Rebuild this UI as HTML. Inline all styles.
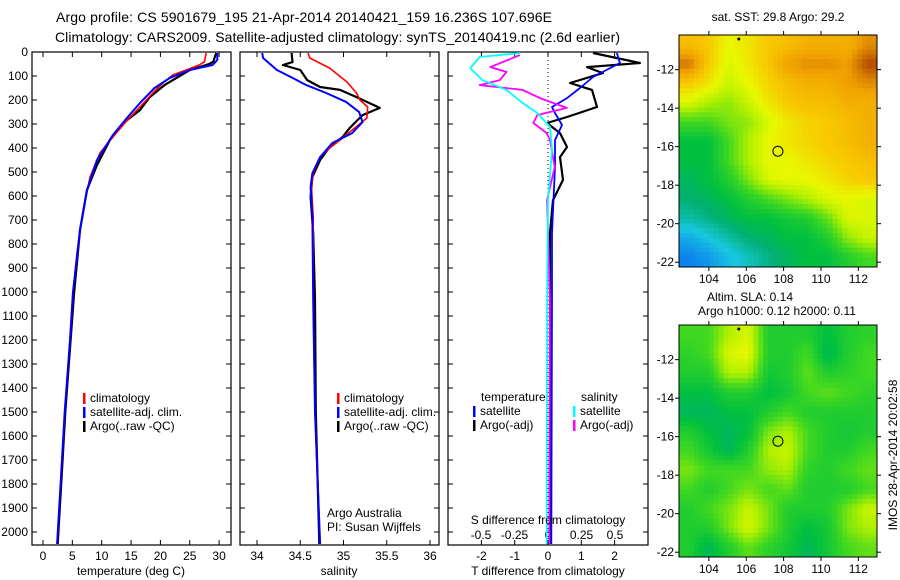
<!DOCTYPE html>
<html><head><meta charset="utf-8">
<style>
html,body{margin:0;padding:0;background:#fff;}
svg{display:block;font-family:"Liberation Sans",sans-serif;}
text{fill:#000;font-size:12px;}
</style></head>
<body>
<svg id="fig" width="900" height="580" viewBox="0 0 900 580">
<text x="56" y="22" textLength="496" style="font-size:14px">Argo profile: CS 5901679_195 21-Apr-2014 20140421_159 16.236S 107.696E</text>
<text x="55" y="42" textLength="565" style="font-size:14px">Climatology: CARS2009. Satellite-adjusted climatology: synTS_20140419.nc (2.6d earlier)</text>
<g id="g"></g>
</svg>
<script>
// ---------- Data ----------
const depthTicks=[0,100,200,300,400,500,600,700,800,900,1000,1100,1200,1300,1400,1500,1600,1700,1800,1900,2000];
const tTicks=[0,5,10,15,20,25,30];
const sTicks=[34,34.5,35,35.5,36];
const tdTicks=[-2,-1,0,1,2];
const sdTicks=[-0.5,-0.25,0,0.25,0.5];
const sdTickLabels=["-0.5","-0.25","0","0.25","0.5"];
// temperature profiles
const tClimDepth=[4,41,54,75,96,130,171,229,283,354,421,521,617,742,838,1004,1200,1500,1800,2050];
const tClimVal=[27.8,27.5,26.6,24.4,22.1,20.4,18.7,16.5,14.4,11.9,9.7,8.0,7.2,6.3,5.8,5.1,4.6,3.7,3.0,2.4];
const tSatDepth=[4,33,54,75,108,150,213,275,346,450,575,742,1004,1200,1500,1800,2050];
const tSatVal=[29.7,29.7,28.9,25.0,21.6,19.0,16.5,14.3,11.9,9.2,7.5,6.3,5.1,4.6,3.7,3.0,2.4];
const tArgoDepth=[4,41,50,75,138,188,242,292,367,471,575,742,1004,1200,1500,1800,2050];
const tArgoVal=[29.5,29.0,28.3,25.0,20.7,18.2,16.5,13.9,11.4,9.2,7.5,6.3,5.3,4.7,3.8,3.1,2.5];
// salinity profiles
const sClimDepth=[4,25,67,125,171,200,229,275,325,367,400,438,504,563,688,1033,1500,2050];
const sClimVal=[34.59,34.61,34.84,35.04,35.15,35.19,35.28,35.27,35.10,34.96,34.84,34.73,34.65,34.63,34.65,34.65,34.67,34.73];
const sSatDepth=[4,25,75,108,138,171,208,250,292,338,379,438,504,563,688,1033,1500,2050];
const sSatVal=[34.06,34.07,34.23,34.41,34.57,34.80,35.03,35.18,35.22,35.10,34.87,34.73,34.64,34.62,34.64,34.65,34.67,34.73];
const sArgoDepth=[4,42,54,75,117,146,158,188,233,263,317,354,396,450,521,604,754,1033,1500,2050];
const sArgoVal=[34.40,34.41,34.30,34.50,34.58,34.73,34.96,35.15,35.42,35.22,35.07,34.99,34.84,34.73,34.64,34.62,34.65,34.67,34.68,34.72];
// difference profiles
const dSsatDepth=[4,21,67,117,158,212,254,312,408,617,1033,2050];
const dSsatVal=[-0.21,-0.51,-0.58,-0.49,-0.31,-0.19,-0.08,0.015,0.03,0,-0.007,-0.01];
const dSargoDepth=[13,63,83,117,138,158,192,233,263,296,338,367,479,617,1033,2050];
const dSargoVal=[-0.21,-0.43,-0.31,-0.36,-0.51,-0.19,-0.06,0.14,-0.08,-0.11,-0.01,0.015,0.05,-0.007,0.015,0.01];
const dTsatDepth=[4,46,104,150,192,229,254,304,367,479,754,1033,2050];
const dTsatVal=[2.07,2.16,1.35,0.96,0.57,0.12,0.21,0.42,0.21,0.21,0.12,0.12,0.1];
const dTargoDepth=[4,46,63,88,129,158,229,271,296,338,396,438,533,617,754,1033,2050];
const dTargoVal=[1.35,2.76,1.17,1.65,0.66,1.32,1.47,0.57,-0.03,0.36,0.57,0.36,0.45,0.15,0.06,0.06,0.06];
// maps
const lonTicks=[104,106,108,110,112];
const latTicks=[-12,-14,-16,-18,-20,-22];
const sstGrid=[
[0.82,0.80,0.72,0.75,0.80,0.82,0.85,0.85,0.85,0.90],
[0.93,0.80,0.70,0.75,0.80,0.88,0.90,0.90,0.88,0.97],
[0.80,0.75,0.68,0.72,0.78,0.82,0.85,0.85,0.88,0.90],
[0.70,0.65,0.62,0.68,0.75,0.80,0.82,0.82,0.85,0.85],
[0.55,0.55,0.60,0.62,0.70,0.75,0.78,0.80,0.82,0.85],
[0.45,0.45,0.55,0.65,0.72,0.75,0.78,0.80,0.82,0.85],
[0.45,0.45,0.55,0.65,0.72,0.72,0.75,0.78,0.80,0.82],
[0.42,0.45,0.50,0.60,0.70,0.72,0.72,0.75,0.78,0.80],
[0.40,0.42,0.45,0.50,0.55,0.60,0.65,0.70,0.72,0.70],
[0.35,0.38,0.42,0.45,0.45,0.48,0.50,0.58,0.70,0.70],
[0.25,0.30,0.35,0.40,0.42,0.45,0.45,0.50,0.62,0.68],
[0.18,0.22,0.28,0.33,0.38,0.42,0.45,0.45,0.50,0.55]];
const slaGrid=[
[0.55,0.55,0.65,0.70,0.50,0.50,0.50,0.45,0.50,0.52],
[0.52,0.55,0.70,0.72,0.50,0.50,0.55,0.42,0.50,0.55],
[0.50,0.50,0.65,0.65,0.48,0.50,0.58,0.50,0.52,0.55],
[0.45,0.45,0.50,0.50,0.45,0.48,0.55,0.58,0.55,0.52],
[0.42,0.42,0.45,0.45,0.50,0.55,0.50,0.50,0.50,0.50],
[0.50,0.45,0.42,0.45,0.60,0.65,0.55,0.50,0.48,0.50],
[0.55,0.48,0.42,0.50,0.65,0.68,0.55,0.50,0.50,0.55],
[0.60,0.55,0.55,0.55,0.62,0.65,0.52,0.50,0.55,0.58],
[0.55,0.50,0.55,0.60,0.55,0.58,0.50,0.50,0.50,0.55],
[0.50,0.55,0.60,0.68,0.60,0.50,0.50,0.50,0.60,0.68],
[0.50,0.50,0.60,0.70,0.60,0.50,0.45,0.48,0.60,0.65],
[0.50,0.42,0.50,0.58,0.52,0.48,0.42,0.48,0.55,0.58]];
const argoLon=107.696, argoLat=-16.236;

// ---------- Drawing ----------
const NS='http://www.w3.org/2000/svg';
const G=document.getElementById('g');
function el(tag,attrs,parent){const e=document.createElementNS(NS,tag);for(const k in attrs)e.setAttribute(k,attrs[k]);(parent||G).appendChild(e);return e;}
function txt(x,y,s,anchor,parent){const t=el('text',{x:x,y:y,'text-anchor':anchor||'start'},parent);t.textContent=s;return t;}
const yD=d=>52+d*0.24;
const PT={x0:32,x1:231}, PS={x0:240,x1:439}, PD={x0:448,x1:648};
const xT=v=>43+v*5.87, xS=v=>257+(v-34)*86.5, xTd=v=>548+v*33.3, xSd=v=>548+v*134;

function frame(p,name){
  const r=el('rect',{x:p.x0,y:52,width:p.x1-p.x0,height:493,fill:'none',stroke:'#000','stroke-width':1.2});
  
  
  depthTicks.forEach(d=>{el('line',{x1:p.x0,x2:p.x0+5,y1:yD(d),y2:yD(d),stroke:'#000'});el('line',{x1:p.x1,x2:p.x1-5,y1:yD(d),y2:yD(d),stroke:'#000'});});
}
function xticks(vals,fx,labels,y,p){vals.forEach((v,i)=>{const x=fx(v);el('line',{x1:x,x2:x,y1:545,y2:540,stroke:'#000'});el('line',{x1:x,x2:x,y1:52,y2:57,stroke:'#000'});const t=txt(x,y,labels?labels[i]:String(v),'middle');});}
function line(depths,vals,fx,color,w,name){
  const pts=depths.map((d,i)=>fx(vals[i]).toFixed(1)+','+yD(d).toFixed(1)).join(' ');
  const pl=el('polyline',{points:pts,fill:'none',stroke:color,'stroke-width':w,'stroke-linejoin':'round'});
  
  
}
// panel 1
frame(PT,'temperature-panel');
depthTicks.forEach(d=>{const t=txt(28,yD(d)+4,String(d),'end');});
xticks(tTicks,xT,null,560,PT);
line(tArgoDepth,tArgoVal,xT,'#000',2.2,'temp-argo-line');
line(tClimDepth,tClimVal,xT,'#f00',1.6,'temp-climatology-line');
line(tSatDepth,tSatVal,xT,'#00f',2,'temp-satellite-line');
const xl1=txt(131,575,'temperature (deg C)','middle');
// panel 2
frame(PS,'salinity-panel');
xticks(sTicks,xS,null,560,PS);
line(sArgoDepth,sArgoVal,xS,'#000',2.2,'sal-argo-line');
line(sClimDepth,sClimVal,xS,'#f00',1.6,'sal-climatology-line');
line(sSatDepth,sSatVal,xS,'#00f',2,'sal-satellite-line');
const xl2=txt(339,575,'salinity','middle');
txt(327,517,'Argo Australia');
txt(327,531,'PI: Susan Wijffels');
// legends
function legend(x,y,entries,pfx){entries.forEach((e,i)=>{const yy=y+i*14;const m=el('rect',{x:x,y:yy-9,width:2.5,height:11,fill:e[1]});const t=txt(x+7,yy,e[0]);});}
legend(83,402,[['climatology','#f00'],['satellite-adj. clim.','#00f'],['Argo(..raw -QC)','#000']],'temp');
legend(337,402,[['climatology','#f00'],['satellite-adj. clim.','#00f'],['Argo(..raw -QC)','#000']],'sal');
// panel 3
frame(PD,'difference-panel');
el('line',{x1:548,x2:548,y1:52,y2:545,stroke:'#000','stroke-dasharray':'1,3'});
xticks(tdTicks,xTd,null,560,PD);
sdTicks.forEach((v,i)=>{const t=txt(xSd(v),539,sdTickLabels[i],'middle');});
line(dTargoDepth,dTargoVal,xTd,'#000',2.2,'tdiff-argo-line');
line(dTsatDepth,dTsatVal,xTd,'#00f',1.8,'tdiff-satellite-line');
line(dSargoDepth,dSargoVal,xSd,'#f0f',1.8,'sdiff-argo-line');
line(dSsatDepth,dSsatVal,xSd,'#0ff',1.8,'sdiff-satellite-line');
txt(548,524,'S difference from climatology','middle');
txt(548,575,'T difference from climatology','middle');
txt(481,401,'temperature');
txt(581,401,'salinity');
legend(473,415,[['satellite','#00f'],['Argo(-adj)','#000']],'tdiff');
legend(573,415,[['satellite','#0ff'],['Argo(-adj)','#f0f']],'sdiff');

// maps
const stops=[[0,'#0030e0'],[0.15,'#0a70f0'],[0.3,'#18c8e0'],[0.4,'#00b070'],[0.45,'#00c040'],[0.55,'#40d820'],[0.65,'#b0f000'],[0.72,'#e8f800'],[0.8,'#f8c800'],[0.88,'#f0a000'],[0.95,'#c06000'],[1,'#a02000']];
function hex(c){return [1,3,5].map(i=>parseInt(c.substr(i,2),16));}
function cmap(v){for(let i=1;i<stops.length;i++){if(v<=stops[i][0]){const a=hex(stops[i-1][1]),b=hex(stops[i][1]);const f=(v-stops[i-1][0])/(stops[i][0]-stops[i-1][0]);return 'rgb('+a.map((x,k)=>Math.round(x+(b[k]-x)*f)).join(',')+')';}}return stops[stops.length-1][1];}
function sample(grid,r,c){ // bilinear interpolation at fractional cell-centre coords
  const R=grid.length,C=grid[0].length;
  r=Math.max(0,Math.min(R-1,r));c=Math.max(0,Math.min(C-1,c));
  const r0=Math.floor(r),c0=Math.floor(c),r1=Math.min(R-1,r0+1),c1=Math.min(C-1,c0+1);
  const fr=r-r0,fc=c-c0;
  return grid[r0][c0]*(1-fr)*(1-fc)+grid[r0][c1]*(1-fr)*fc+grid[r1][c0]*fr*(1-fc)+grid[r1][c1]*fr*fc;
}
function map(y0,grid,name){
  const X0=679,X1=877,Y0=y0,Y1=y0+232;
  const lon0=102.4,lon1=113,lat0=-10.2,lat1=-22.25;
  const xL=v=>X0+(v-lon0)/(lon1-lon0)*(X1-X0), yL=v=>Y0+(v-lat0)/(lat1-lat0)*(Y1-Y0);
  const rows=grid.length, cols=grid[0].length, sub=4;
  const cw=(X1-X0)/(cols*sub), ch=(Y1-Y0)/(rows*sub);
  const g=el('g',{});
  
  
  for(let r=0;r<rows*sub;r++)for(let c=0;c<cols*sub;c++){
    const v=sample(grid,(r+0.5)/sub-0.5,(c+0.5)/sub-0.5);
    el('rect',{x:(X0+c*cw).toFixed(2),y:(Y0+r*ch).toFixed(2),width:(cw+0.5).toFixed(2),height:(ch+0.5).toFixed(2),fill:cmap(v)},g);
  }
  el('rect',{x:X0,y:Y0,width:X1-X0,height:Y1-Y0,fill:'none',stroke:'#000','stroke-width':1},g);
  lonTicks.forEach(v=>{const x=xL(v);el('line',{x1:x,x2:x,y1:Y1,y2:Y1+4,stroke:'#000'});el('line',{x1:x,x2:x,y1:Y0,y2:Y0-4,stroke:'#000'});const t=txt(x,Y1+16,String(v),'middle');});
  latTicks.forEach(v=>{const y=yL(v);el('line',{x1:X0,x2:X0-4,y1:y,y2:y,stroke:'#000'});el('line',{x1:X1,x2:X1+4,y1:y,y2:y,stroke:'#000'});const t=txt(674,y+4,String(v),'end');});
  const c=el('circle',{cx:xL(argoLon),cy:yL(argoLat),r:5,fill:'none',stroke:'#000','stroke-width':1});
  
  
  el('circle',{cx:xL(105.6),cy:Y0+4,r:1.5,fill:'#000'});
}
map(35,sstGrid,'sst-map');
map(325,slaGrid,'sla-map');
txt(778,21,'sat. SST: 29.8 Argo: 29.2','middle');
txt(750,301,'Altim. SLA: 0.14','middle');
txt(777,315,'Argo h1000: 0.12 h2000: 0.11','middle');
const rt=txt(0,0,'IMOS 28-Apr-2014 20:02:58','middle');rt.setAttribute('transform','translate(897,455) rotate(-90)');
</script>
</body></html>
